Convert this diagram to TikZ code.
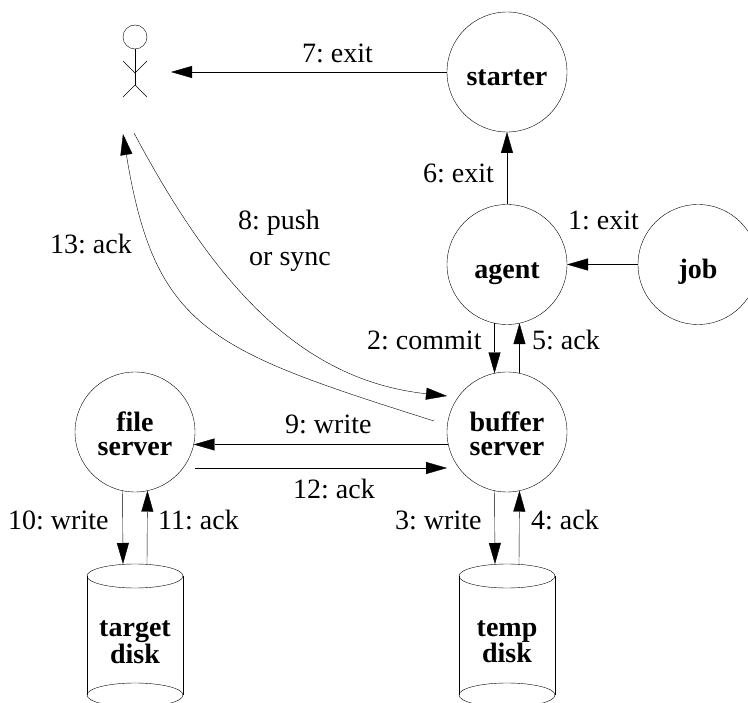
\documentclass[tikz,border=0pt]{standalone}
\usepackage{fontspec}
\setmainfont{Liberation Serif}
\usetikzlibrary{arrows.meta,calc}
\frenchspacing
\tikzset{
    x=1pt, y=-1pt,
    line width=1.1pt,
    process/.style = {draw, circle, minimum size=120pt, inner sep=0pt, outer sep=0pt, align=center, font=\fontsize{28}{24}\selectfont\bfseries},
    one-line/.style = {text height=28pt, text depth=0pt},
    disk/.style = {rectangle, minimum width=96pt, minimum height=119pt, inner sep=0pt, outer sep=0pt},
    disk-title/.style = {align=center, inner sep=0pt, font=\fontsize{28}{24}\selectfont\bfseries},
    flow/.style = {-{Triangle[length=21pt,width=12pt]}},
    flow-label/.style = {anchor=base west, inner sep=0pt, font=\fontsize{28}{24}\selectfont},
}
\newcommand{\drawdisk}[1]{
    \draw (#1.north) ellipse (48pt and 12pt);
    \draw (#1.north west) -- (#1.south west) (#1.north east) -- (#1.south east);
    \draw (#1.south) ellipse (48pt and 12pt);
}
\newcommand{\lowertitle}{\rule{0pt}{24pt}}

\begin{document}
\begin{tikzpicture}
\clip (0,0) rectangle (748,703);

\node [process, one-line] (starter) at (507,72) {starter};
\node [process, one-line] (agent) at (507,264.5) {agent};
\node [process, one-line] (job) at (698,264.5) {job};
\node [process] (buffer) at (507,432) {\lowertitle buffer\\server};
\node [process] (file) at (135,432) {\lowertitle file\\server};
\node [disk] (target) at (135,635.5) {};
\node [disk] (temp) at (507,635.5) {};
\drawdisk{target}
\drawdisk{temp}
\node [disk-title] (target-title) at (135,642) {target\\disk};
\node [disk-title] (temp-title) at (507,642) {temp\\disk};

% user
\node [draw, circle, minimum size=24pt, inner sep=0pt, outer sep=0pt] (head) at (135,37) {};
\coordinate (hip) at ($(head.south)+(0,24)$);
\coordinate (crotch) at ($(hip)+(0,12)$);
\draw (head.south) -- (crotch);
\draw ($(hip)+(-12,-12)$) -- (hip) -- ($(hip)+(12,-12)$);
\draw ($(crotch)+(-12,12)$) -- (crotch) -- ($(crotch)+(12,12)$);
\coordinate (user-right) at (171,72);
\coordinate (user-in) at (123,134);
\coordinate (user-out) at (134,133);

% disk ends of the connectors
\coordinate (target-in) at ($(target.north)+(-12,-12)$);
\coordinate (target-out) at ($(target.north)+(12,-12)$);
\coordinate (temp-in) at ($(temp.north)+(-12,-12)$);
\coordinate (temp-out) at ($(temp.north)+(12,-12)$);

% connectors
\draw[flow] (starter.west) -- (user-right);
\draw[flow] (agent.north) -- (starter.south);
\draw[flow] (job.west) -- (agent.east);
\draw[flow] (agent.258) -- (buffer.102);
\draw[flow] (buffer.78) -- (agent.282);
\draw[flow] (buffer.258) -- (temp-in);
\draw[flow] (temp-out) -- (buffer.282);
\draw[flow] (buffer.192) -- (file.348);
\draw[flow] ($(file.east)+(0,36)$) -- ($(buffer.west)+(0,36)$);
\draw[flow] (file.258) -- (target-in);
\draw[flow] (target-out) -- (file.282);
\draw[flow] (user-out) .. controls (215,285) and (300,380) .. ($(buffer.west)+(0,-36)$);
\draw[flow] ($(buffer.west)+(-13,-11)$) .. controls (210,350) and (155,330) .. (user-in);

% labels
\node [flow-label] (l7) at (302,63) {7: exit};
\node [flow-label] (l6) at (423,182.5) {6: exit};
\node [flow-label] (l1) at (568,230) {1: exit};
\node [flow-label] (l8-push) at (238,230) {8: push};
\node [flow-label] (l8-sync) at (249,266) {or sync};
\node [flow-label] (l13) at (50,254) {13: ack};
\node [flow-label] (l2) at (367,350) {2: commit};
\node [flow-label] (l5) at (532,350) {5: ack};
\node [flow-label] (l9) at (285,434) {9: write};
\node [flow-label] (l12) at (293,499) {12: ack};
\node [flow-label] (l3) at (395,530) {3: write};
\node [flow-label] (l4) at (531,530) {4: ack};
\node [flow-label] (l10) at (8,530) {10: write};
\node [flow-label] (l11) at (158,530) {11: ack};
\end{tikzpicture}
\end{document}
